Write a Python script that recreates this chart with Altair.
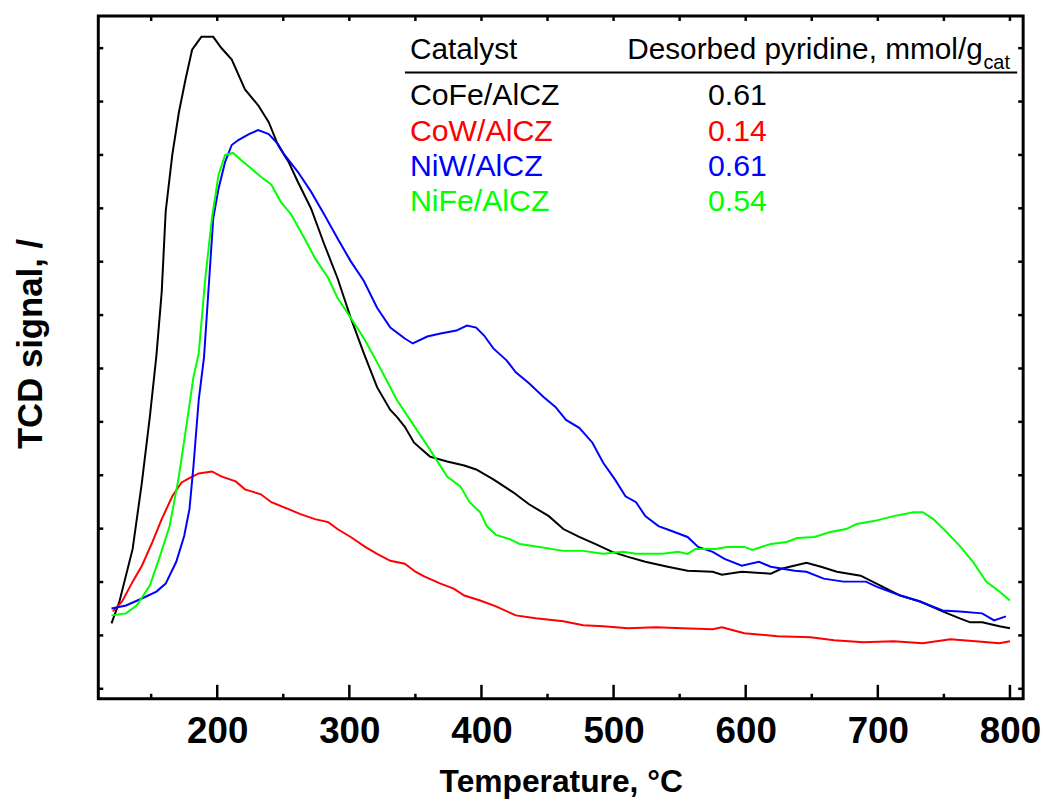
import altair as alt
import pandas as pd

# ---------------- data ----------------
COFE_T = [120, 126, 136, 143, 149, 154, 158, 161, 166, 171, 176, 181, 188, 197, 203, 211, 221, 231, 239, 246,
          254, 261, 271, 281, 291, 301, 311, 321, 331, 336, 342, 349, 361, 374, 387, 396, 409, 424, 436, 451,
          462, 474, 486, 499, 511, 524, 541, 556, 575, 582, 597, 619, 627, 646, 657, 669, 687, 702, 717, 732,
          749, 762, 770, 779, 792, 800]
COFE_S = [7.6, 9.8, 15.1, 21.8, 28.4, 34.6, 41.0, 49.1, 54.8, 59.1, 62.4, 65.4, 66.7, 66.7, 65.6, 64.4, 61.4, 59.8, 58.1, 55.8,
          54.1, 52.1, 49.4, 45.8, 42.4, 38.4, 34.8, 31.4, 29.1, 28.4, 27.4, 25.8, 24.4, 23.9, 23.5, 23.1, 22.1, 20.8, 19.6, 18.4,
          17.1, 16.3, 15.6, 14.8, 14.3, 13.8, 13.3, 12.9, 12.8, 12.5, 12.8, 12.6, 13.1, 13.7, 13.3, 12.8, 12.4, 11.4, 10.4, 9.8,
          8.8, 8.1, 7.7, 7.7, 7.3, 7.1]

COW_T = [121, 128, 136, 143, 151, 158, 166, 173, 180, 186, 196, 203, 214, 221, 233, 241, 254, 263, 274, 284,
         291, 301, 312, 321, 331, 342, 350, 357, 369, 379, 387, 399, 411, 426, 441, 462, 477, 492, 511, 532,
         552, 575, 582, 599, 624, 649, 667, 689, 712, 734, 755, 774, 792, 800]
COW_S = [8.8, 9.8, 11.8, 13.4, 15.8, 18.1, 20.4, 21.8, 22.3, 22.7, 22.9, 22.4, 21.9, 21.1, 20.6, 19.8, 19.1, 18.6, 18.1, 17.8,
         17.1, 16.3, 15.3, 14.6, 13.9, 13.6, 12.8, 12.3, 11.6, 11.1, 10.4, 9.9, 9.3, 8.4, 8.1, 7.8, 7.4, 7.3, 7.1, 7.2,
         7.1, 7.0, 7.2, 6.6, 6.3, 6.2, 5.9, 5.7, 5.8, 5.6, 6.0, 5.8, 5.6, 5.8]

NIW_T = [120, 131, 143, 154, 161, 169, 175, 179, 182, 186, 190, 194, 197, 201, 206, 211, 216, 224, 231, 239,
         246, 251, 261, 271, 281, 291, 301, 311, 321, 331, 342, 348, 359, 369, 381, 389, 396, 402, 409, 419,
         426, 436, 447, 456, 464, 474, 484, 492, 501, 509, 517, 524, 534, 544, 556, 564, 575, 584, 597, 610,
         619, 637, 646, 659, 674, 691, 699, 717, 732, 749, 762, 779, 788, 797]
NIW_S = [9.1, 9.4, 10.1, 10.8, 11.6, 13.8, 16.4, 19.1, 23.4, 30.1, 34.4, 42.4, 48.4, 51.4, 54.1, 55.8, 56.3, 56.9, 57.3, 56.9,
         55.9, 54.8, 53.1, 51.1, 48.8, 46.4, 44.1, 42.1, 39.4, 37.4, 36.3, 35.8, 36.5, 36.8, 37.1, 37.6, 37.4, 36.6, 35.3, 34.1,
         32.9, 31.8, 30.4, 29.4, 28.1, 27.3, 25.8, 23.8, 22.1, 20.4, 19.8, 18.4, 17.4, 16.9, 16.3, 15.3, 14.8, 14.1, 13.4, 13.8,
         13.3, 12.9, 12.8, 12.1, 11.8, 11.8, 11.3, 10.4, 9.8, 8.9, 8.8, 8.6, 7.9, 8.3]

NIFE_T = [120, 131, 139, 149, 156, 164, 171, 177, 182, 186, 191, 196, 201, 206, 212, 218, 226, 233, 241, 248,
          256, 266, 274, 284, 291, 301, 312, 319, 327, 336, 346, 361, 374, 384, 391, 399, 404, 411, 421, 429,
          444, 462, 477, 492, 507, 517, 537, 549, 556, 562, 577, 586, 599, 605, 619, 631, 639, 652, 664, 676,
          684, 697, 712, 727, 734, 742, 752, 762, 772, 782, 792, 800]
NIFE_S = [8.4, 8.6, 9.4, 11.4, 14.1, 17.4, 22.4, 27.8, 32.4, 34.8, 42.4, 48.4, 52.8, 54.8, 55.0, 54.3, 53.4, 52.6, 51.8, 50.1,
          48.8, 46.4, 44.4, 42.4, 40.4, 38.4, 36.1, 34.4, 32.4, 30.1, 28.1, 25.1, 22.4, 21.4, 19.8, 18.8, 17.4, 16.5, 16.1, 15.6,
          15.3, 14.9, 14.9, 14.6, 14.8, 14.6, 14.6, 14.8, 14.6, 15.1, 15.1, 15.3, 15.3, 15.0, 15.6, 15.8, 16.2, 16.3, 16.8, 17.1,
          17.6, 17.9, 18.4, 18.8, 18.8, 18.1, 16.8, 15.4, 13.8, 11.8, 10.8, 9.9]

CATALYSTS = ["CoFe/AlCZ", "CoW/AlCZ", "NiW/AlCZ", "NiFe/AlCZ"]
PYRIDINE = [0.61, 0.14, 0.61, 0.54]

X_MAJOR = [200, 300, 400, 500, 600, 700, 800]
X_MINOR = [150, 250, 350, 450, 550, 650, 750]
Y_TICKS = [1.0, 6.38, 11.76, 17.14, 22.52, 27.9, 33.28, 38.66, 44.04, 49.42, 54.8, 60.18, 65.56]

# ---------------- styles ----------------
COLORS = ["#000000", "#ff0000", "#0000ff", "#00ff00"]
FONT = "Liberation Sans, Arial, Helvetica, sans-serif"

# ---------------- build tables ----------------
series = [(CATALYSTS[0], COFE_T, COFE_S), (CATALYSTS[1], COW_T, COW_S),
          (CATALYSTS[2], NIW_T, NIW_S), (CATALYSTS[3], NIFE_T, NIFE_S)]
rows = []
for name, ts, ss in series:
    for t, s in zip(ts, ss):
        rows.append({"catalyst": name, "T": t, "S": s})
df = pd.DataFrame(rows)

table_df = pd.DataFrame({"catalyst": CATALYSTS, "pyridine": PYRIDINE, "row": list(range(len(CATALYSTS)))})

x_scale = alt.Scale(domain=[110, 810], nice=False, zero=False)
y_scale = alt.Scale(domain=[0, 68.8], nice=False, zero=False)
color_scale = alt.Scale(domain=CATALYSTS, range=COLORS)

x_axis = alt.Axis(values=X_MAJOR, format="d", labelFont=FONT, labelFontSize=37, labelFontWeight="bold",
                  labelColor="black", labelBaseline="alphabetic", labelPadding=44, labelFlush=False,
                  ticks=False, tickSize=0, domain=False, grid=False,
                  title="Temperature, °C", titleFont=FONT, titleFontSize=32, titleFontWeight="bold",
                  titleColor="black", titleBaseline="alphabetic", titleY=93)
y_axis = alt.Axis(labels=False, ticks=False, tickSize=0, domain=False, grid=False,
                  title="TCD signal, /", titleFont=FONT, titleFontSize=35, titleFontWeight="bold",
                  titleColor="black", titlePadding=50, titleY=330)

lines = alt.Chart(df).mark_line(strokeWidth=2).encode(
    x=alt.X("T:Q", scale=x_scale, axis=x_axis),
    y=alt.Y("S:Q", scale=y_scale, axis=y_axis),
    color=alt.Color("catalyst:N", scale=color_scale, legend=None),
)

# inward ticks on all four sides
bottom_major = alt.Chart(pd.DataFrame({"T": X_MAJOR})).mark_rule(color="black", strokeWidth=2.5).encode(
    x="T:Q", y=alt.value(688), y2=alt.value(674))
bottom_minor = alt.Chart(pd.DataFrame({"T": X_MINOR})).mark_rule(color="black", strokeWidth=2.5).encode(
    x="T:Q", y=alt.value(688), y2=alt.value(683))
top_ticks = alt.Chart(pd.DataFrame({"T": X_MAJOR + X_MINOR})).mark_rule(color="black", strokeWidth=2.5).encode(
    x="T:Q", y=alt.value(0), y2=alt.value(5))
left_ticks = alt.Chart(pd.DataFrame({"S": Y_TICKS})).mark_rule(color="black", strokeWidth=2.5).encode(
    y="S:Q", x=alt.value(0), x2=alt.value(5))
right_ticks = alt.Chart(pd.DataFrame({"S": Y_TICKS})).mark_rule(color="black", strokeWidth=2.5).encode(
    y="S:Q", x=alt.value(932), x2=alt.value(927))

# table in the upper right
one = pd.DataFrame({"k": [0]})
head1 = alt.Chart(one).mark_text(text="Catalyst", align="left", baseline="alphabetic", font=FONT,
                                 fontSize=30, color="black").encode(x=alt.value(314), y=alt.value(43))
head2 = alt.Chart(one).mark_text(text="Desorbed pyridine, mmol/g", align="left", baseline="alphabetic",
                                 font=FONT, fontSize=30, color="black").encode(x=alt.value(533), y=alt.value(43))
head3 = alt.Chart(one).mark_text(text="cat", align="left", baseline="alphabetic", font=FONT,
                                 fontSize=20, color="black").encode(x=alt.value(892), y=alt.value(53))
divider = alt.Chart(one).mark_rule(color="black", strokeWidth=2).encode(
    x=alt.value(309), x2=alt.value(926), y=alt.value(57))

names = alt.Chart(table_df).transform_calculate(ypos="90 + datum.row * 35.6").mark_text(
    align="left", baseline="alphabetic", font=FONT, fontSize=30.5).encode(
    x=alt.value(314), y=alt.Y("ypos:Q", scale=None), text="catalyst:N",
    color=alt.Color("catalyst:N", scale=color_scale, legend=None))
values = alt.Chart(table_df).transform_calculate(ypos="90 + datum.row * 35.6").mark_text(
    align="center", baseline="alphabetic", font=FONT, fontSize=30.5).encode(
    x=alt.value(644), y=alt.Y("ypos:Q", scale=None), text=alt.Text("pyridine:Q", format=".2f"),
    color=alt.Color("catalyst:N", scale=color_scale, legend=None))

chart = alt.layer(
    lines, bottom_major, bottom_minor, top_ticks, left_ticks, right_ticks,
    head1, head2, head3, divider, names, values,
).properties(
    width=932, height=688,
    autosize=alt.AutoSizeParams(type="none"),
    padding={"left": 91, "top": 5, "right": 20, "bottom": 100},
    background="white",
).configure(font=FONT).configure_view(stroke="black", strokeWidth=3)

chart.save("out.html", embed_options={"renderer": "svg", "actions": False})
